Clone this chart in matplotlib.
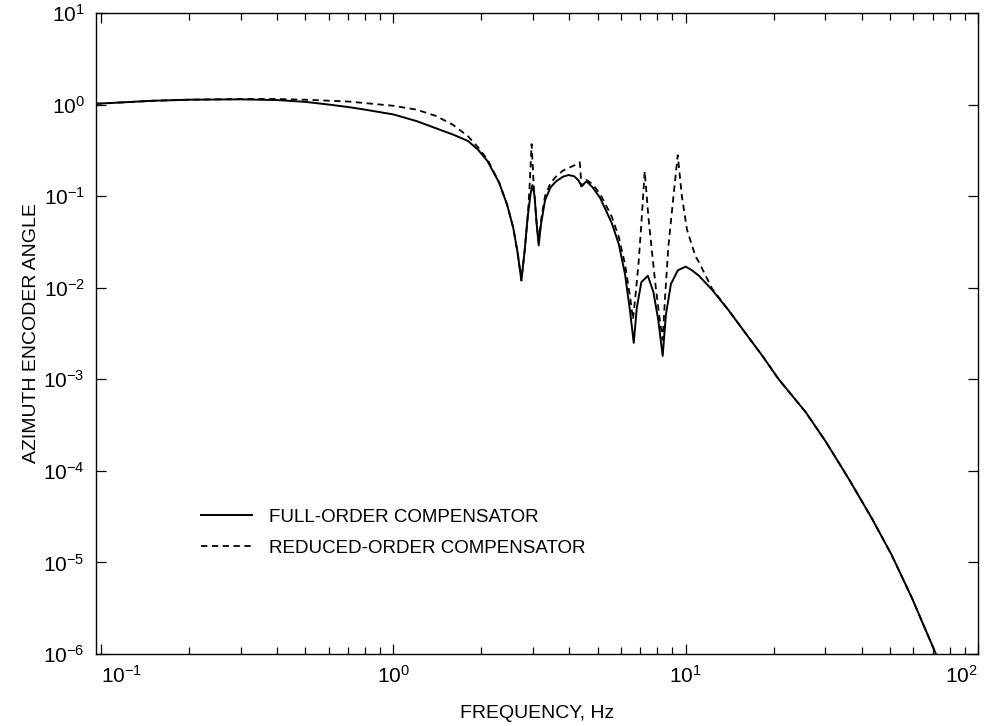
import matplotlib
matplotlib.use("Agg")
import matplotlib.pyplot as plt
from matplotlib.ticker import LogLocator, NullFormatter, NullLocator

# ---- data (frequency in Hz, magnitude) ----
full_freq = [0.096, 0.12, 0.15, 0.2, 0.3, 0.4, 0.5, 0.6, 0.7, 0.8, 1.0, 1.2, 1.4, 1.6,
             1.8, 1.95, 2.1, 2.3, 2.45, 2.57, 2.66, 2.74, 2.81, 2.88, 2.95, 2.99,
             3.04, 3.09, 3.14, 3.2, 3.3, 3.45, 3.6, 3.8, 3.97, 4.15, 4.3, 4.4, 4.5,
             4.58, 4.8, 5.1, 5.58, 5.9, 6.2, 6.45, 6.64, 6.8, 7.05, 7.42, 7.75, 8.05,
             8.34, 8.55, 8.9, 9.4, 10.0, 10.5, 11.1, 12.3, 14.0, 16.0, 18.3, 20.8,
             25.7, 30.1, 36.1, 43.4, 50.7, 59.4, 71.8, 75.0]
full_mag = [1.02, 1.06, 1.10, 1.13, 1.14, 1.12, 1.07, 1.0, 0.94, 0.88, 0.78, 0.66, 0.55,
            0.47, 0.40, 0.32, 0.24, 0.14, 0.08, 0.045, 0.024, 0.012, 0.025, 0.06,
            0.11, 0.132, 0.10, 0.05, 0.029, 0.05, 0.09, 0.125, 0.145, 0.163, 0.17,
            0.165, 0.148, 0.128, 0.138, 0.145, 0.125, 0.095, 0.051, 0.03, 0.014,
            0.0055, 0.0025, 0.006, 0.0115, 0.0135, 0.009, 0.0045, 0.0018, 0.005,
            0.011, 0.0155, 0.017, 0.0155, 0.0135, 0.0095, 0.0057, 0.0032, 0.0018,
            0.001, 4.4e-4, 2.1e-4, 8.2e-5, 3e-5, 1.2e-5, 4.1e-6, 1.0e-6, 7.5e-7]

red_freq = [0.096, 0.15, 0.2, 0.3, 0.4, 0.5, 0.7, 1.0, 1.2, 1.4, 1.6, 1.8, 1.95, 2.1,
            2.3, 2.45, 2.57, 2.66, 2.74, 2.81, 2.88, 2.92, 2.97, 3.02, 3.09, 3.14,
            3.2, 3.3, 3.45, 3.61, 3.8, 4.0, 4.2, 4.34, 4.4, 4.5, 4.58, 4.8, 5.1,
            5.58, 5.9, 6.2, 6.45, 6.6, 6.73, 6.9, 7.05, 7.24, 7.45, 7.65, 7.9, 8.15,
            8.34, 8.5, 8.72, 9.08, 9.39, 9.7, 10.1, 10.8, 11.1, 12.3, 14.0, 16.0,
            18.3, 20.8, 25.7, 30.1, 36.1, 43.4, 50.7, 59.4, 71.8, 75.0]
red_mag = [1.02, 1.10, 1.13, 1.15, 1.15, 1.13, 1.08, 0.97, 0.88, 0.75, 0.6, 0.45, 0.34,
           0.25, 0.14, 0.08, 0.045, 0.024, 0.012, 0.025, 0.06, 0.12, 0.37, 0.128,
           0.05, 0.032, 0.055, 0.10, 0.14, 0.165, 0.19, 0.205, 0.22, 0.234, 0.128,
           0.138, 0.15, 0.135, 0.105, 0.06, 0.036, 0.018, 0.008, 0.0045, 0.0082,
           0.019, 0.05, 0.187, 0.06, 0.026, 0.01, 0.0045, 0.0027, 0.008, 0.028, 0.1,
           0.28, 0.1, 0.043, 0.022, 0.019, 0.0098, 0.0057, 0.0032, 0.0018, 0.001,
           4.4e-4, 2.1e-4, 8.2e-5, 3e-5, 1.2e-5, 4.1e-6, 1.0e-6, 7.5e-7]

x_ticks = [0.1, 1, 10, 100]
x_ticklabels = [r"$10^{-1}$", r"$10^{0}$", r"$10^{1}$", r"$10^{2}$"]
y_ticks = [1e-6, 1e-5, 1e-4, 1e-3, 1e-2, 1e-1, 1, 10]
y_ticklabels = [r"$10^{-6}$", r"$10^{-5}$", r"$10^{-4}$", r"$10^{-3}$",
                r"$10^{-2}$", r"$10^{-1}$", r"$10^{0}$", r"$10^{1}$"]

labels = ["FULL-ORDER COMPENSATOR", "REDUCED-ORDER COMPENSATOR"]
x_label = "FREQUENCY, Hz"
y_label = "AZIMUTH ENCODER ANGLE"

plt.rcParams['font.family'] = ['Liberation Sans', 'DejaVu Sans']
plt.rcParams['mathtext.fontset'] = 'custom'
plt.rcParams['mathtext.rm'] = 'Liberation Sans'
plt.rcParams['mathtext.it'] = 'Liberation Sans'

fig = plt.figure(figsize=(9.84, 7.26), dpi=100)
ax = fig.add_axes([96/984, 1 - 654/726, 882/984, 641/726])

ax.loglog(full_freq, full_mag, color='black', lw=1.4, linestyle='-', label=labels[0])
ax.loglog(red_freq, red_mag, color='black', lw=1.3, linestyle=(0, (3.5, 2.5)), label=labels[1])

ax.set_xlim(0.096, 100)
ax.set_ylim(1e-6, 10)

ax.set_xticks(x_ticks)
ax.set_xticklabels(x_ticklabels)
ax.xaxis.set_minor_locator(LogLocator(base=10, subs=range(2, 10), numticks=20))
ax.xaxis.set_minor_formatter(NullFormatter())
ax.set_yticks(y_ticks)
ax.set_yticklabels(y_ticklabels)
ax.yaxis.set_minor_locator(NullLocator())

ax.tick_params(axis='both', which='both', direction='in', top=True, right=True,
               labelsize=15, width=0.9)
ax.tick_params(axis='both', which='major', length=7, pad=8)
ax.tick_params(axis='both', which='minor', length=5)
for s in ax.spines.values():
    s.set_linewidth(1.0)

xtl = ax.get_xticklabels()
xtl[0].set_horizontalalignment('left')
xtl[-1].set_horizontalalignment('right')

ax.set_xlabel(x_label, fontsize=14, labelpad=13)
ax.set_ylabel(y_label, fontsize=14, labelpad=2)

ax.legend(loc='lower left', bbox_to_anchor=(0.1, 0.125), frameon=False,
          fontsize=13.5, handlelength=2.7, handletextpad=0.9, labelspacing=0.75)

fig.savefig("out.png", dpi=100)
